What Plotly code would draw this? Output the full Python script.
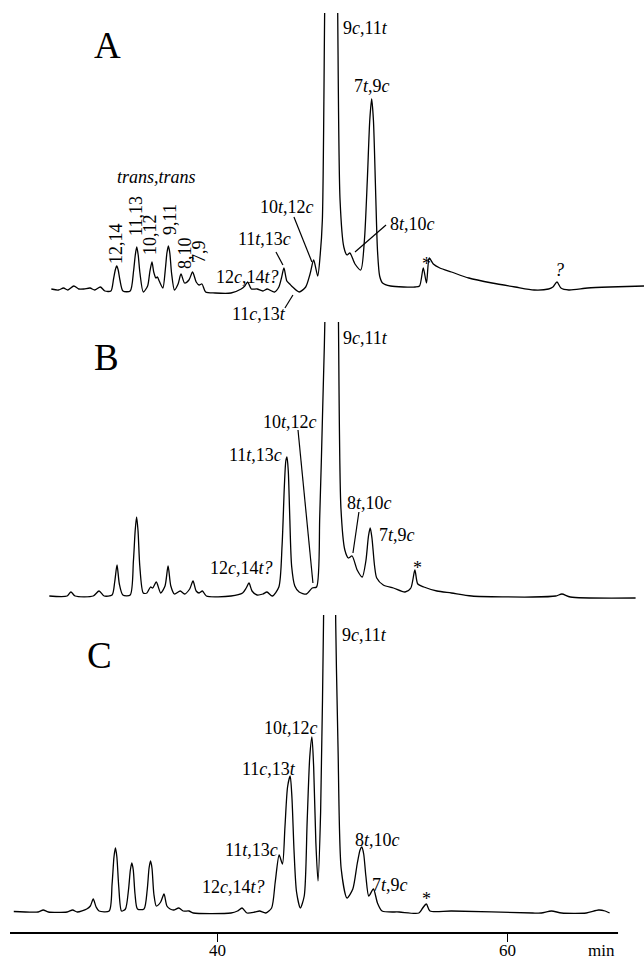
import plotly.graph_objects as go

# ---------------- data (retention time in min, detector signal) ----------------
time_a = [28.51, 29.0, 29.35, 29.65, 30.06, 30.4, 30.76, 31.18, 31.5, 31.89, 32.2, 32.62,
          32.8, 32.92, 33.02, 33.12, 33.24, 33.45, 33.95, 34.18, 34.3, 34.4, 34.5, 34.62,
          34.85, 35.15, 35.3, 35.45, 35.57, 35.72, 35.82, 35.95, 36.2, 36.38, 36.48, 36.58,
          36.68, 36.8, 37.0, 37.25, 37.45, 37.7, 38.0, 38.25, 38.5, 38.7, 38.9, 39.15,
          39.8, 40.9, 41.6, 41.85, 42.05, 42.3, 42.7, 43.1, 43.4, 43.9, 44.2, 44.38,
          44.55, 44.75, 44.95, 45.15, 45.6, 46.05, 46.35, 46.6, 46.88, 47.05, 47.2, 47.36,
          47.85, 48.25, 48.42, 48.68, 48.9, 49.1, 49.45, 49.85, 50.1, 50.3, 50.47, 50.6,
          50.72, 50.87, 51.0, 51.15, 51.35, 51.9, 52.8, 53.6, 53.9, 54.16, 54.38, 54.57,
          54.85, 55.3, 56.1, 57.3, 58.9, 60.5, 61.8, 62.8, 63.1, 63.38, 63.65, 64.2,
          65.5, 67.0, 69.38]
signal_a = [1, 0, 2, 0, 4, 1, 1, 2, 0, 3, -1, -1,
            11, 20, 24, 20, 10, -1, -1, 19, 35, 43, 35, 17,
            -2, 4, 18, 28, 18, 12, 13, 9, 2, 22, 37, 44,
            37, 17, 0, 6, 16, 7, 10, 18, 8, 5, 6, -2,
            -3, -3, 1, 4, 8, 1, 1, -1, 1, -2, 3, 12,
            22, 9, 6, 3, -2, 3, 16, 30, 14, 35, 70, 280,
            1000, 290, 90, 43, 35, 37, 26, 20, 50, 110, 170, 191,
            170, 100, 40, 14, 7, 4, 3, 3, 4, 22, 7, 32,
            26, 22, 18, 12, 7, 3, 0, 1, 3, 8, 2, 0,
            2, 3, 4]

time_b = [28.37, 29.6, 29.86, 30.15, 31.4, 31.8, 32.15, 32.7, 32.88, 33.04, 33.2, 33.44,
          33.95, 34.17, 34.29, 34.39, 34.49, 34.61, 34.85, 35.1, 35.35, 35.5, 35.75, 36.05,
          36.35, 36.56, 36.75, 37.0, 37.4, 37.7, 38.05, 38.28, 38.5, 38.7, 38.93, 39.2,
          40.9, 41.7, 41.95, 42.14, 42.35, 42.7, 43.1, 43.38, 43.75, 44.2, 44.42, 44.58,
          44.68, 44.76, 44.85, 44.95, 45.08, 45.3, 45.6, 46.1, 46.5, 46.8, 47.02, 47.22,
          47.38, 47.85, 48.3, 48.48, 48.75, 49.0, 49.25, 49.6, 49.95, 50.2, 50.38, 50.5,
          50.62, 50.8, 50.95, 51.4, 52.1, 52.9, 53.3, 53.58, 53.78, 54.2, 55.1, 56.1,
          57.5, 61.7, 63.3, 63.72, 64.3, 68.8]
signal_b = [0, 0, 4, 0, 0, 5, 0, 1, 14, 31, 12, 1,
            1, 35, 65, 79, 65, 30, 3, 3, 9, 8, 14, 3,
            10, 30, 10, 2, 5, 2, 7, 15, 5, 3, 5, 0,
            0, 3, 8, 13, 5, 1, 2, 4, 0, 9, 50, 110,
            135, 139, 125, 80, 30, 10, 4, 2, 8, 9, 80, 186,
            280, 1000, 290, 88, 46, 38, 40, 26, 19, 35, 60, 68,
            58, 30, 18, 11, 8, 4, 8, 26, 12, 9, 5, 3,
            0, -1, 0, 2, -1, -2]

time_c = [25.92, 27.6, 27.95, 28.3, 29.6, 29.98, 30.3, 30.95, 31.2, 31.4, 31.6, 31.8,
          32.5, 32.7, 32.83, 32.93, 33.03, 33.16, 33.35, 33.62, 33.83, 33.96, 34.06, 34.16,
          34.28, 34.45, 34.9, 35.12, 35.25, 35.35, 35.45, 35.58, 35.75, 36.05, 36.28, 36.48,
          36.7, 36.95, 37.3, 37.6, 38.0, 38.3, 40.9, 41.35, 41.66, 42.0, 42.55, 42.87,
          43.3, 43.7, 43.95, 44.22, 44.45, 44.62, 44.8, 44.98, 45.1, 45.25, 45.42, 45.68,
          45.95, 46.15, 46.33, 46.48, 46.6, 46.75, 46.9, 47.08, 47.28, 47.75, 48.12, 48.28,
          48.5, 48.9, 49.3, 49.6, 49.8, 49.92, 50.05, 50.2, 50.4, 50.72, 51.0, 51.32,
          52.5, 53.86, 54.12, 54.37, 54.62, 56.1, 61.7, 62.3, 63.0, 63.7, 65.4, 66.25,
          66.7, 67.01]
signal_c = [0.5, 0, 2, 0, 0, 2, 0, 3, 6, 13, 5, 1,
            1, 28, 55, 64, 55, 25, 1, 3, 22, 42, 49, 42,
            18, 3, 3, 22, 44, 51, 44, 18, 6, 10, 18, 6,
            3, 2, 4, 1, 1, -1, -1, 1, 4, -1, 0, 1,
            -1, 4, 30, 57, 48, 85, 125, 136, 115, 60, 20, 4,
            16, 90, 155, 175, 145, 70, 31, 100, 290, 1000, 290, 165,
            43, 14, 23, 48, 62, 65, 58, 36, 16, 23, 9, 1,
            0, -1, 4, 8, 1, 1, -1, -1, 1, -1, -1, 2,
            1, -1]

tick_values = [40, 60]
tick_labels = ["40", "60"]
axis_unit = "min"
panel_names = ["A", "B", "C"]

# ---------------- layout helpers ----------------
W, H = 644, 961
X0, X1 = 24.97, 69.38
FONT = "Liberation Serif"


def py(px):
    return 1 - px / H


fig = go.Figure()
for i, (t, s) in enumerate([(time_a, signal_a), (time_b, signal_b), (time_c, signal_c)], 1):
    suf = "" if i == 1 else str(i)
    fig.add_trace(go.Scatter(
        x=t, y=s, mode="lines",
        line=dict(color="black", width=1.3, shape="spline", smoothing=0.7),
        xaxis="x" + suf, yaxis="y" + suf, hoverinfo="skip", showlegend=False))

hidden = dict(visible=False, showgrid=False, zeroline=False)
fig.update_layout(
    width=W, height=H, margin=dict(l=0, r=0, t=0, b=0),
    paper_bgcolor="white", plot_bgcolor="white", hovermode=False,
    font=dict(family=FONT, color="black"),
    xaxis=dict(domain=[0, 1], range=[X0, X1], anchor="y", **hidden),
    yaxis=dict(domain=[py(300), py(13)], range=[-10, 277], anchor="x", **hidden),
    xaxis2=dict(domain=[0, 1], range=[X0, X1], anchor="y2", **hidden),
    yaxis2=dict(domain=[py(606), py(322)], range=[-10, 274], anchor="x2", **hidden),
    xaxis3=dict(domain=[0, 1], range=[X0, X1], anchor="y3", visible=True,
                showgrid=False, zeroline=False, showline=False, automargin=False,
                ticks="outside", ticklen=8, tickwidth=1.3, tickcolor="black",
                tickvals=tick_values, showticklabels=False),
    yaxis3=dict(domain=[py(933), py(615)], range=[-21, 297], anchor="x3", **hidden),
)

# axis baseline
fig.add_shape(type="line", xref="x3", yref="paper", x0=25.66, x1=67.59,
              y0=py(933), y1=py(933), line=dict(color="black", width=2))

anns = []


def ann(text, x, y, p, size=18, xanchor="center", angle=0, yref=None):
    suf = "" if p == 1 else str(p)
    anns.append(dict(text=text, x=x, y=y, xref="x" + suf, yref=yref or ("y" + suf),
                     showarrow=False, xanchor=xanchor, yanchor="middle",
                     textangle=angle,
                     font=dict(family=FONT, size=size, color="black")))


def lead(x0, y0, x1, y1, p, yref=None):
    suf = "" if p == 1 else str(p)
    fig.add_shape(type="line", xref="x" + suf, yref=yref or ("y" + suf),
                  x0=x0, y0=y0, x1=x1, y1=y1, line=dict(color="black", width=1.2))


# ---- panel A
ann(panel_names[0], 32.41, 245, 1, size=37)
ann("<i>trans,trans</i>", 35.79, 113, 1)
for txt, x, y in [("12,14", 32.97, 46), ("11,13", 34.34, 74), ("10,12", 35.31, 56),
                  ("9,11", 36.69, 71), ("8,10", 37.72, 37), ("7,9", 38.69, 39)]:
    ann(txt, x, y, 1, angle=-90)
ann("9<i>c</i>,11<i>t</i>", 48.48, 262, 1, xanchor="left")
ann("7<i>t</i>,9<i>c</i>", 50.62, 204, 1)
ann("10<i>t</i>,12<i>c</i>", 44.76, 83, 1)
ann("11<i>t</i>,13<i>c</i>", 43.24, 51, 1)
ann("8<i>t</i>,10<i>c</i>", 51.72, 66, 1, xanchor="left")
ann("12<i>c</i>,14<i>t?</i>", 42.07, 13, 1)
ann("*", 54.41, 26, 1)
ann("<i>?</i>", 63.52, 20, 1)
ann("11<i>c</i>,13<i>t</i>", 42.83, py(314), 1, yref="paper")
lead(45.24, 73, 46.48, 28, 1)
lead(44.0, 38, 44.48, 25, 1)
lead(51.59, 65, 49.45, 38, 1)
lead(45.17, py(295), 44.62, py(308), 1, yref="paper")

# ---- panel B
ann(panel_names[1], 32.28, 239, 2, size=37)
ann("9<i>c</i>,11<i>t</i>", 48.48, 258, 2, xanchor="left")
ann("10<i>t</i>,12<i>c</i>", 44.97, 174, 2)
ann("11<i>t</i>,13<i>c</i>", 42.62, 141, 2)
ann("12<i>c</i>,14<i>t?</i>", 41.59, 28, 2)
ann("8<i>t</i>,10<i>c</i>", 50.48, 93, 2)
ann("7<i>t</i>,9<i>c</i>", 50.97, 61, 2, xanchor="left")
ann("*", 53.79, 28, 2)
lead(45.52, 166, 46.55, 13, 2)
lead(49.72, 84, 49.31, 43, 2)

# ---- panel C
ann(panel_names[2], 31.86, 257, 3, size=37)
ann("9<i>c</i>,11<i>t</i>", 48.41, 277, 3, xanchor="left")
ann("10<i>t</i>,12<i>c</i>", 45.03, 184, 3)
ann("11<i>c</i>,13<i>t</i>", 43.52, 143, 3)
ann("11<i>t</i>,13<i>c</i>", 42.28, 62, 3)
ann("12<i>c</i>,14<i>t?</i>", 41.10, 25, 3)
ann("8<i>t</i>,10<i>c</i>", 51.03, 72, 3)
ann("7<i>t</i>,9<i>c</i>", 51.86, 27, 3)
ann("*", 54.41, 13, 3)

# tick labels and axis unit (placed on the x3 scale)
for v, lab in zip(tick_values, tick_labels):
    anns.append(dict(text=lab, x=v, y=py(950), xref="x3", yref="paper",
                     showarrow=False, xanchor="center", yanchor="middle",
                     font=dict(family=FONT, size=17, color="black")))
anns.append(dict(text=axis_unit, x=66.48, y=py(950), xref="x3", yref="paper",
                 showarrow=False, xanchor="center", yanchor="middle",
                 font=dict(family=FONT, size=17, color="black")))

fig.update_layout(annotations=anns)
fig.write_html("out.html")
